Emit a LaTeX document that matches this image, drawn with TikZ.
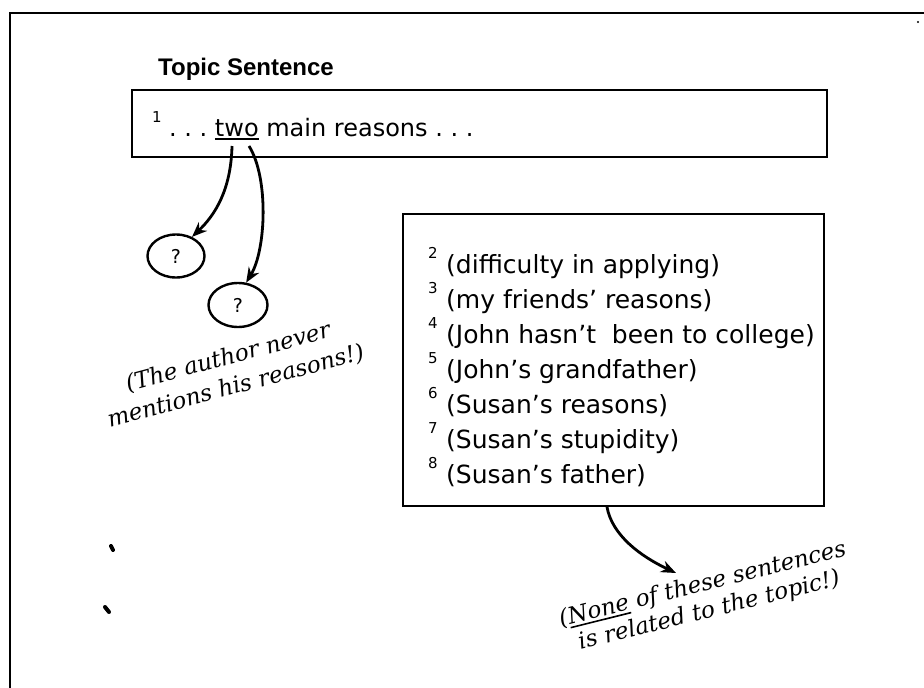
\documentclass[tikz,border=0pt]{standalone}
\usepackage{fontspec}
\setmainfont{DejaVu Sans}
\newfontfamily\topicfont{Liberation Sans}
\newfontfamily\notefont{DejaVu Serif}
\usetikzlibrary{shapes.geometric,arrows.meta}
\newcommand\myul[1]{\setbox0\hbox{#1}\rlap{\rule[-4pt]{\wd0}{1.6pt}}\box0\relax}
\begin{document}
\begin{tikzpicture}[x=1pt,y=-1pt,
  frame/.style={line width=2pt,line join=miter},
  boxstyle/.style={draw,line width=2pt,inner sep=0pt},
  qcircle/.style={draw,ellipse,line width=2.4pt,minimum width=57pt,minimum height=43pt,inner sep=0pt,font=\fontsize{19}{19}\selectfont},
  arr/.style={line width=2.8pt,-{Stealth[length=15pt,width=12pt]}},
  boxtext/.style={anchor=base west,inner sep=0pt,font=\fontsize{24}{24}\selectfont},
  listtext/.style={anchor=base west,inner sep=0pt,font=\fontsize{25}{25}\selectfont},
  suptext/.style={anchor=base west,inner sep=0pt,font=\fontsize{15}{15}\selectfont},
  note/.style={align=center,inner sep=0pt,font=\notefont\itshape\fontsize{23}{30}\selectfont},
  blob/.style={line width=4pt,line cap=round},
]
\useasboundingbox (0,0) rectangle (924,688);
% outer frame
\draw[frame] (10,688) -- (10,13) -- (924,13);
\fill (918,22) circle (1.2);
% title
\node[anchor=base west,inner sep=0pt,font=\topicfont\bfseries\fontsize{24}{24}\selectfont] (title) at (158,75) {Topic Sentence};
% topic box
\node[boxstyle,minimum width=695pt,minimum height=67pt] (b1) at (479.5,123.5) {};
\node[suptext] (n1) at (152,122) {1};
\node[boxtext] (t1) at (169,136) {.\ .\ .\ \myul{two} main reasons .\ .\ .};
% circles
\node[qcircle] (c1) at (176,256) {?};
\node[qcircle,minimum width=59pt,minimum height=44pt] (c2) at (238,305) {?};
\coordinate (s1) at (232,146);
\coordinate (s2) at (249,146);
\draw[arr] (s1) .. controls (231,190) and (215,215) .. (c1.50);
\draw[arr] (s2) .. controls (269,178) and (266,250) .. (c2.70);
% note 1
\node[note,rotate=15] (a1) at (232,372) {(The author never\\mentions his reasons!)};
% sentence box
\node[boxstyle,minimum width=421pt,minimum height=292pt] (b2) at (613.5,360) {};
\foreach \i/\n/\txt in {0/2/{(difficulty in applying)},1/3/{(my friends’ reasons)},2/4/{(John hasn’t\ \ been to college)},3/5/{(John’s grandfather)},4/6/{(Susan’s reasons)},5/7/{(Susan’s stupidity)},6/8/{(Susan’s father)}}{
  \node[suptext] (s\n) at (428,258+35*\i) {\n};
  \node[listtext] (l\n) at (446,273+35*\i) {\txt};
}
% arrow to note 2
\coordinate (s3) at (607,507);
\coordinate (t3) at (676,573);
\draw[arr] (s3) .. controls (612,535) and (640,556) .. (t3);
\node[note,rotate=14,font=\notefont\itshape\fontsize{23}{27}\selectfont] (a2) at (706,598) {(\myul{None} of these sentences\\is related to the topic!)};
% stray marks
\draw[blob] (111,546) -- (113,550);
\draw[blob] (105,607) -- (109,612);
\end{tikzpicture}
\end{document}
